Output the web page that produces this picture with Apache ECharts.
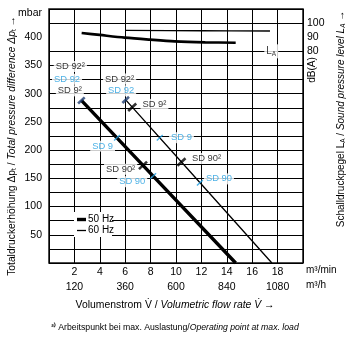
<!DOCTYPE html>
<html><head><meta charset="utf-8">
<script src="https://cdn.jsdelivr.net/npm/echarts@6/dist/echarts.min.js"></script>
<style>html,body{margin:0;padding:0;background:#fff}#chart{width:350px;height:341px}</style>
</head><body><div id="chart"></div>
<script>
// axis ticks
const flowTicks = [2, 4, 6, 8, 10, 12, 14, 16, 18];          // m³/min
const hourTickAt = [2, 6, 10, 14, 18];                          // where the m³/h labels sit
const hourTicks = [120, 360, 600, 840, 1080];                   // m³/h
const pressureTicks = [50, 100, 150, 200, 250, 300, 350, 400];  // mbar
const levelTicks = [80, 90, 100];                               // dB(A)

// characteristic curves: [flow m³/min, total pressure difference mbar]
const pressure50Hz = [[2.55, 288], [7.4, 173], [14.7, 0]];
const pressure60Hz = [[6.04, 289], [10.43, 179], [17.55, 0]];
// sound pressure level: [flow m³/min, dB(A)]
const level50Hz = [[2.57, 93.0], [3.99, 91.6], [5.96, 89.7], [7.93, 88.3], [9.9, 87.1], [12.3, 86.4], [14.7, 86.1]];
const level60Hz = [[6.04, 94.9], [12.0, 94.6], [17.4, 94.4]];

// operating points on the curves
const pointsSD92 = [[2.55, 288], [6.04, 289]];
const pointsSD9Max = [[6.55, 276]];
const pointsSD90Max = [[7.4, 173], [10.43, 179]];
const pointsSD9 = [[5.35, 222], [8.72, 222]];
const pointsSD90 = [[8.2, 154], [11.88, 142]];

// operating point captions: [text, flow, pressure, colour]
const pointLabels = [
  ['SD 92²', 1.68, 348, 'k'],
  ['SD 92', 1.42, 325.5, 'b'],
  ['SD 9²', 1.64, 305, 'k'],
  ['SD 92²', 5.56, 326, 'k'],
  ['SD 92', 5.68, 305, 'b'],
  ['SD 9²', 8.3, 281, 'k'],
  ['SD 9', 10.43, 222, 'b'],
  ['SD 9', 4.22, 207, 'b'],
  ['SD 90²', 5.64, 166, 'k'],
  ['SD 90', 6.55, 144, 'b'],
  ['SD 90²', 12.4, 185, 'k'],
  ['SD 90', 13.38, 149, 'b']
];

const FONT = '"Liberation Sans", Arial, sans-serif';
const INK = '#000';
const BLUE = '#1f9ee0';
const NAVY = '#1d3b6e';

// pressure grid every 25 mbar; the 400 mbar line is left out
const pressureLineColors = [];
for (let v = 0; v <= 450; v += 25) pressureLineColors.push(v === 400 ? 'rgba(0,0,0,0)' : INK);

function tickSeries(name, data, color, w, h, z) {
  return {
    name, type: 'scatter', data, z,
    symbol: 'rect', symbolSize: [w, h], symbolRotate: -47,
    itemStyle: { color }, silent: true
  };
}

const chart = echarts.init(document.getElementById('chart'), null, { renderer: 'canvas' });
chart.setOption({
  animation: false,
  textStyle: { fontFamily: FONT },
  grid: { left: 49, right: 47, top: 9, bottom: 78, show: true, borderColor: '#111', borderWidth: 1.5, backgroundColor: 'transparent' },
  xAxis: {
    type: 'value', min: 0, max: 20, interval: 2,
    axisLine: { show: false }, axisTick: { show: false },
    splitLine: { lineStyle: { color: INK, width: 1 } },
    axisLabel: {
      margin: 2, fontSize: 10.5, color: INK, lineHeight: 15, fontFamily: FONT,
      formatter: v => {
        if (!flowTicks.includes(v)) return '';
        const i = hourTickAt.indexOf(v);
        return i >= 0 ? v + '\n' + hourTicks[i] : String(v);
      }
    }
  },
  yAxis: [{
    type: 'value', min: 0, max: 450, interval: 25,
    axisLine: { show: false }, axisTick: { show: false },
    splitLine: { lineStyle: { color: pressureLineColors, width: 1 } },
    axisLabel: {
      margin: 7, fontSize: 10.5, color: INK, fontFamily: FONT,
      formatter: v => pressureTicks.includes(v) ? String(v) : ''
    }
  }, {
    type: 'value', min: -70, max: 110, interval: 10, position: 'right',
    axisLine: { show: false }, axisTick: { show: false }, splitLine: { show: false },
    axisLabel: {
      margin: 4, fontSize: 10.5, color: INK, fontFamily: FONT,
      formatter: v => levelTicks.includes(v) ? String(v) : ''
    }
  }],
  series: [
    {
      name: 'captions', type: 'scatter', symbolSize: 0, z: 2, silent: true,
      data: pointLabels.map(d => ({
        value: [d[1], d[2]],
        label: { color: d[3] === 'b' ? BLUE : INK }
      })),
      label: {
        show: true, position: 'inside', fontSize: 9.4, fontFamily: FONT,
        backgroundColor: '#fff', padding: [1, 2],
        formatter: p => pointLabels[p.dataIndex][0]
      }
    },
    {
      name: 'LA', type: 'scatter', yAxisIndex: 1, symbolSize: 0, z: 2, silent: true,
      data: [[17.5, 80]],
      label: {
        show: true, position: 'inside', backgroundColor: '#fff', padding: [1, 2],
        formatter: 'L{s|A}', fontSize: 10, color: INK, fontFamily: FONT,
        rich: { s: { fontSize: 6.5, padding: [5, 0, 0, 0], color: INK, fontFamily: FONT } }
      }
    },
    { name: '50 Hz', type: 'line', data: pressure50Hz, showSymbol: false, z: 3, lineStyle: { color: INK, width: 3.4 } },
    { name: '60 Hz', type: 'line', data: pressure60Hz, showSymbol: false, z: 3, lineStyle: { color: INK, width: 1.3 } },
    { name: 'LA 50 Hz', type: 'line', yAxisIndex: 1, data: level50Hz, smooth: 0.3, showSymbol: false, z: 3, lineStyle: { color: INK, width: 2.7 } },
    { name: 'LA 60 Hz', type: 'line', yAxisIndex: 1, data: level60Hz, smooth: 0.3, showSymbol: false, z: 3, lineStyle: { color: INK, width: 1.3 } },
    tickSeries('SD 92', pointsSD92, NAVY, 2.6, 9, 4),
    tickSeries('SD 9²', pointsSD9Max, INK, 2.6, 11, 4),
    tickSeries('SD 90²', pointsSD90Max, INK, 2.6, 11, 4),
    tickSeries('SD 9', pointsSD9, BLUE, 1.4, 8, 4),
    tickSeries('SD 90', pointsSD90, BLUE, 1.4, 8, 4)
  ],
  graphic: [
    // legend
    { type: 'rect', shape: { x: 74, y: 212, width: 38, height: 25 }, style: { fill: '#fff' }, z: 5 },
    { type: 'line', shape: { x1: 77, y1: 219.5, x2: 86, y2: 219.5 }, style: { stroke: INK, lineWidth: 3.4 }, z: 6 },
    { type: 'line', shape: { x1: 77, y1: 230.5, x2: 86, y2: 230.5 }, style: { stroke: INK, lineWidth: 1.3 }, z: 6 },
    { type: 'text', x: 88, y: 219.5, z: 6, style: { text: '50 Hz', fontSize: 10, fontFamily: FONT, fill: INK, verticalAlign: 'middle' } },
    { type: 'text', x: 88, y: 230.5, z: 6, style: { text: '60 Hz', fontSize: 10, fontFamily: FONT, fill: INK, verticalAlign: 'middle' } },
    // units
    { type: 'text', x: 42, y: 13, style: { text: 'mbar', fontSize: 10.5, fontFamily: FONT, fill: INK, align: 'right', verticalAlign: 'middle' } },
    { type: 'text', x: 306, y: 270, style: { text: 'm³/min', fontSize: 10, fontFamily: FONT, fill: INK, verticalAlign: 'middle' } },
    { type: 'text', x: 306, y: 285, style: { text: 'm³/h', fontSize: 10, fontFamily: FONT, fill: INK, verticalAlign: 'middle' } },
    { type: 'text', x: 312, y: 70, rotation: Math.PI / 2, style: { text: 'dB(A)', fontSize: 10, fontFamily: FONT, fill: INK, align: 'center', verticalAlign: 'middle' } },
    // axis titles
    {
      type: 'text', x: 12, y: 146, rotation: Math.PI / 2,
      style: {
        text: 'Totaldruckerhöhung Δp{s|t} / {i|Total pressure difference Δ}{ip|p}{s|t} →',
        fontSize: 10.3, fontFamily: FONT, fill: INK, align: 'center', verticalAlign: 'middle',
        rich: {
          s: { fontSize: 6.5, padding: [5, 0, 0, 0], fontFamily: FONT, fill: INK },
          i: { fontStyle: 'italic', fontSize: 10.3, fontFamily: FONT, fill: INK },
          ip: { fontStyle: 'italic', fontSize: 10.3, fontFamily: FONT, fill: INK }
        }
      }
    },
    {
      type: 'text', x: 341, y: 119, rotation: Math.PI / 2,
      style: {
        text: 'Schalldruckpegel L{s|A} / {i|Sound pressure level L}{si|A} →',
        fontSize: 10, fontFamily: FONT, fill: INK, align: 'center', verticalAlign: 'middle',
        rich: {
          s: { fontSize: 6.5, padding: [5, 0, 0, 0], fontFamily: FONT, fill: INK },
          si: { fontSize: 6.5, fontStyle: 'italic', padding: [5, 0, 0, 0], fontFamily: FONT, fill: INK },
          i: { fontStyle: 'italic', fontSize: 10, fontFamily: FONT, fill: INK }
        }
      }
    },
    {
      type: 'text', x: 175, y: 305,
      style: {
        text: 'Volumenstrom V̇ / {i|Volumetric flow rate V̇} →',
        fontSize: 10.4, fontFamily: FONT, fill: INK, align: 'center', verticalAlign: 'middle',
        rich: { i: { fontStyle: 'italic', fontSize: 10.4, fontFamily: FONT, fill: INK } }
      }
    },
    {
      type: 'text', x: 175, y: 328,
      style: {
        text: '{b|²⁾} Arbeitspunkt bei max. Auslastung/{i|Operating point at max. load}',
        fontSize: 8.7, fontFamily: FONT, fill: INK, align: 'center', verticalAlign: 'middle',
        rich: {
          b: { fontSize: 8, fontWeight: 'bold', fontFamily: FONT, fill: INK },
          i: { fontStyle: 'italic', fontSize: 8.7, fontFamily: FONT, fill: INK }
        }
      }
    }
  ]
});
</script></body></html>
